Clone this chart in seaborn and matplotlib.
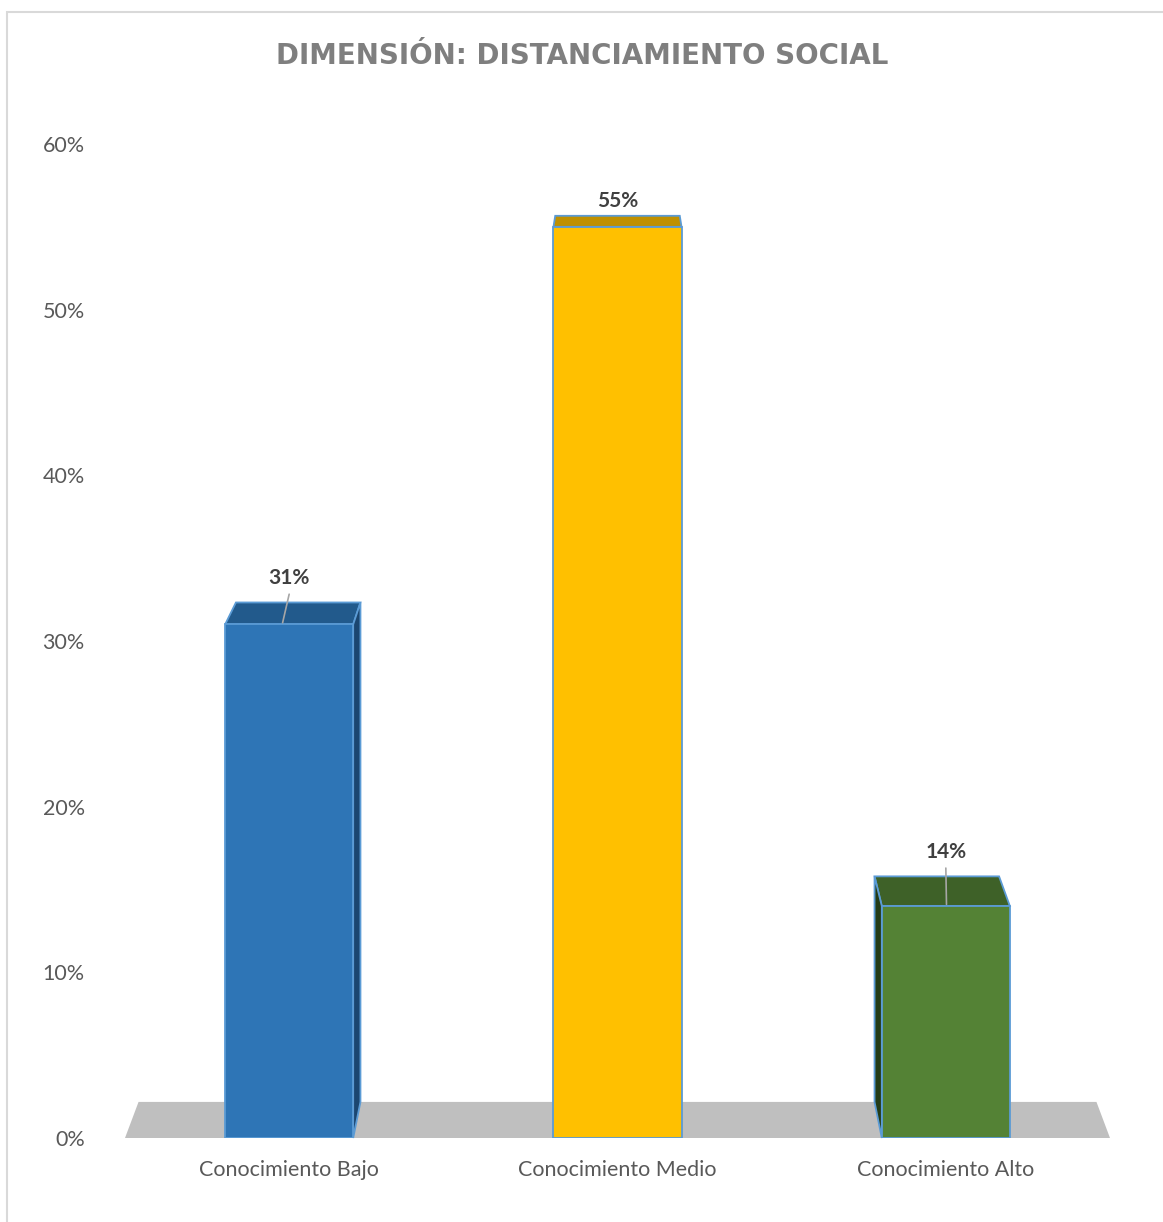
import matplotlib
matplotlib.use("Agg")
import matplotlib.pyplot as plt
import seaborn as sns
from matplotlib.patches import Polygon, Rectangle
from matplotlib.ticker import PercentFormatter

# datos
categorias = ["Conocimiento Bajo", "Conocimiento Medio", "Conocimiento Alto"]
porcentajes = [31, 55, 14]
titulo = "DIMENSIÓN: DISTANCIAMIENTO SOCIAL"

# colores de cada barra: frente, tapa, lateral
frente = ["#2E75B6", "#FFC000", "#548235"]
tapa = ["#225A8C", "#BF9000", "#3E6128"]
lateral = ["#1B4670", "#A07800", "#243C16"]
borde = "#5B9BD5"
gris_texto = "#595959"

sns.set_theme(style="white")
plt.rcParams["font.family"] = ["Lato", "DejaVu Sans"]

fig = plt.figure(figsize=(11.63, 12.22), dpi=100)
ax = fig.add_axes([125 / 1163, 1 - 1138 / 1222, 985 / 1163, 994 / 1222])

sns.barplot(x=categorias, y=porcentajes, hue=categorias, palette=frente,
            width=0.39, legend=False, ax=ax, zorder=4,
            edgecolor=borde, linewidth=1.3, saturation=1)
ax.set_xlim(-0.5, 2.5)
ax.set_ylim(0, 60)

# perspectiva: punto de fuga y profundidad
fuga_x, fuga_y, prof = 1.0, 79.2, 0.0275


def atras(x, y):
    return (x + prof * (fuga_x - x), y + prof * (fuga_y - y))


# piso gris
x0, x1 = ax.get_xlim()
ax.add_patch(Polygon([(x0, 0), (x1, 0), atras(x1, 0), atras(x0, 0)],
                     closed=True, facecolor="#BFBFBF", edgecolor="none",
                     zorder=1, clip_on=False))

for i, bar in enumerate(ax.patches[:len(porcentajes)]):
    xl = bar.get_x()
    xr = xl + bar.get_width()
    h = bar.get_height()
    # tapa
    ax.add_patch(Polygon([(xl, h), (xr, h), atras(xr, h), atras(xl, h)],
                         closed=True, facecolor=tapa[i], edgecolor=borde,
                         linewidth=1.3, zorder=3, clip_on=False))
    # lateral visible
    if xr < fuga_x:
        lado = [(xr, 0), (xr, h), atras(xr, h), atras(xr, 0)]
    elif xl > fuga_x:
        lado = [(xl, 0), (xl, h), atras(xl, h), atras(xl, 0)]
    else:
        lado = None
    # etiqueta
    cx = xl + bar.get_width() / 2
    if lado:
        ax.add_patch(Polygon(lado, closed=True, facecolor=lateral[i],
                             edgecolor=borde, linewidth=1.3, zorder=3,
                             clip_on=False))
        ty = atras(cx, h)[1] + 1.5
        ax.plot([cx, cx - 0.02 * (1 if xr < fuga_x else -0.1)], [ty - 1.0, h + 0.1],
                color="#A6A6A6", linewidth=1.2, zorder=5)
    else:
        ty = atras(cx, h)[1] + 0.9
    ax.text(cx, ty, f"{h:.0f}%", ha="center", va="center", fontsize=15,
            fontweight="bold", color="#404040", zorder=6)

ax.yaxis.set_major_formatter(PercentFormatter(decimals=0))
ax.set_yticks(range(0, 61, 10))
ax.tick_params(axis="y", length=0, pad=29, labelsize=15.5, labelcolor=gris_texto)
ax.tick_params(axis="x", length=0, pad=16, labelsize=15.5, labelcolor=gris_texto)
for s in ax.spines.values():
    s.set_visible(False)
ax.grid(False)
ax.set_xlabel("")
ax.set_ylabel("")

fig.text(582 / 1163, 1 - 56 / 1222, titulo, ha="center", va="center",
         fontsize=20, fontweight="bold", color="#7F7F7F",
         family=["DejaVu Sans"])

# marco del grafico
fig.patches.append(Rectangle((7 / 1163, -0.01), 1.02, 1 - 12 / 1222 + 0.01,
                             transform=fig.transFigure, fill=False,
                             edgecolor="#D9D9D9", linewidth=1.5))

fig.savefig("out.png", dpi=100)
